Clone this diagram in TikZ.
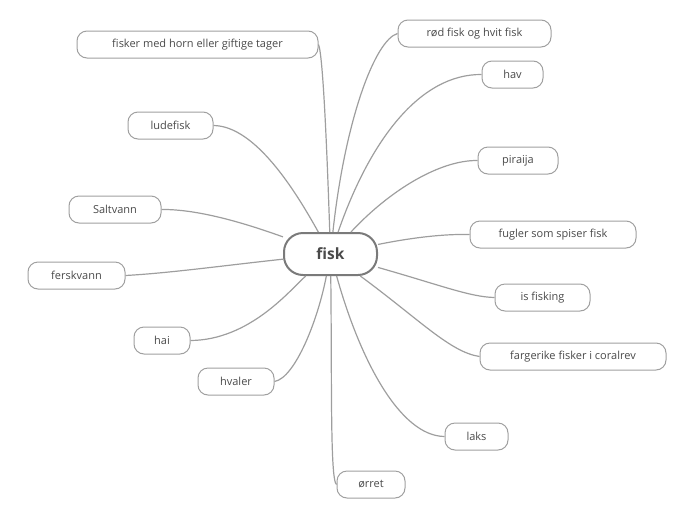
\documentclass[tikz,border=0pt]{standalone}
\usepackage{fontspec}
\setmainfont{Open Sans}
\definecolor{txt}{HTML}{4A4A4A}
\definecolor{bord}{HTML}{A0A0A0}
\definecolor{cbord}{HTML}{7A7A7A}
\definecolor{lin}{HTML}{9E9E9E}
\tikzset{
  leaf/.style={draw=bord, line width=1pt, rounded corners=10pt, fill=white, text=txt,
    minimum height=27pt, inner sep=0pt, font=\fontsize{11pt}{13pt}\selectfont},
  root/.style={draw=cbord, line width=2pt, rounded corners=19pt, fill=white, text=txt,
    minimum width=93pt, minimum height=42pt, inner sep=0pt, font=\fontsize{15.5pt}{17pt}\selectfont\bfseries},
  conn/.style={draw=lin, line width=1.2pt}
}
\begin{document}
\begin{tikzpicture}[x=1pt,y=-1pt]
\useasboundingbox (0,0) rectangle (696,520);
\node[root] (fisk) at (330.5,254) {fisk};
\node[leaf, minimum width=241pt] (horn) at (197.5,44.5) {fisker med horn eller giftige tager};
\node[leaf, minimum width=85pt] (lude) at (170.5,125.5) {ludefisk};
\node[leaf, minimum width=92pt] (salt) at (115,209.5) {Saltvann};
\node[leaf, minimum width=97pt] (fersk) at (76.5,275.5) {ferskvann};
\node[leaf, minimum width=56pt] (hai) at (162,340.5) {hai};
\node[leaf, minimum width=76pt] (hval) at (236,381.5) {hvaler};
\node[leaf, minimum width=68pt] (orret) at (371,484.5) {ørret};
\node[leaf, minimum width=63pt] (laks) at (476.5,436.5) {laks};
\node[leaf, minimum width=186pt] (farg) at (573,356.5) {fargerike fisker i coralrev};
\node[leaf, minimum width=95pt] (isf) at (542.5,297.5) {is fisking};
\node[leaf, minimum width=166pt] (fugl) at (553,234.5) {fugler som spiser fisk};
\node[leaf, minimum width=80pt] (pira) at (518,160.5) {piraija};
\node[leaf, minimum width=61pt] (hav) at (512.5,74.5) {hav};
\node[leaf, minimum width=153pt] (rod) at (474.5,33.5) {rød fisk og hvit fisk};

\draw[conn] (fisk) .. controls (327,150) and (323,55) .. (horn.east);
\draw[conn] (fisk) .. controls (295,190) and (255,126) .. (lude.east);
\draw[conn] (fisk) .. controls (250,225) and (200,209) .. (salt.east);
\draw[conn] (fisk) .. controls (220,266) and (170,273) .. (fersk.east);
\draw[conn] (fisk) .. controls (290,290) and (250,340) .. (hai.east);
\draw[conn] (fisk) .. controls (318,320) and (295,378) .. (hval.east);
\draw[conn] (fisk) .. controls (332,380) and (330,480) .. (orret.west);
\draw[conn] (fisk) .. controls (360,360) and (400,436) .. (laks.west);
\draw[conn] (fisk) .. controls (420,320) and (450,352) .. (farg.west);
\draw[conn] (fisk) .. controls (440,285) and (470,297) .. (isf.west);
\draw[conn] (fisk) .. controls (420,236) and (450,234) .. (fugl.west);
\draw[conn] (fisk) .. controls (390,190) and (440,160) .. (pira.west);
\draw[conn] (fisk) .. controls (370,140) and (420,74) .. (hav.west);
\draw[conn] (fisk) .. controls (345,120) and (375,40) .. (rod.west);
\end{tikzpicture}
\end{document}
